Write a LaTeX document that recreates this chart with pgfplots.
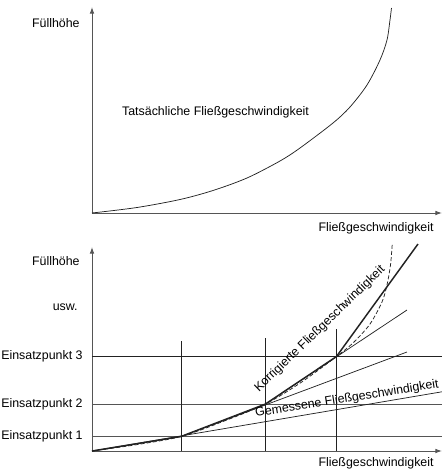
\documentclass[border=0pt]{standalone}
\usepackage{fontspec}
\setmainfont{Liberation Sans}
\usepackage{pgfplots}
\pgfplotsset{compat=1.18}
\usetikzlibrary{arrows.meta}
\definecolor{ink}{HTML}{222222}
\definecolor{axl}{HTML}{555555}
\pgfplotsset{myaxis/.style={
  x=0.75pt, y=0.75pt, axis lines=left, xmin=0, xmax=350, ymin=0,
  enlargelimits=false, xtick=\empty, ytick=\empty, clip=false,
  axis line style={axl, line width=0.7pt, -{Latex[length=5pt,width=3.5pt]}},
  anchor=origin,
  every node/.append style={text=ink, inner sep=0pt}
}}
\begin{document}
\fontsize{9.3}{11}\selectfont
\begin{tikzpicture}[x=0.75pt,y=0.75pt]
\useasboundingbox (-92,-256) rectangle (350,213);
% top panel
\begin{axis}[myaxis, ymax=206, at={(0,0)}]
\addplot[ink, line width=0.55pt, smooth, tension=0.5] coordinates {(0,0)(45,5.5)(88,13.5)(121,22.5)(155,35)(188,52)(208,65)(241,90)(258,106)(275,128)(288,153)(295,173)(298,193)(299.5,205)};
\node[anchor=east] at (axis cs:-8,190) {Füllhöhe};
\node at (axis cs:123.5,101) {Tatsächliche Fließgeschwindigkeit};
\node[anchor=east] at (axis cs:346,-15) {Fließgeschwindigkeit};
\end{axis}
% bottom panel
\begin{axis}[myaxis, ymax=204, at={(0,-238)}]
\addplot[axl, line width=0.6pt] coordinates {(0,14.5)(350,14.5)};
\addplot[axl, line width=0.6pt] coordinates {(0,47)(350,47)};
\addplot[ink, line width=0.55pt] coordinates {(0,94.5)(350,94.5)};
\addplot[ink, line width=0.55pt] coordinates {(89,0)(89,110)};
\addplot[ink, line width=0.55pt] coordinates {(173.5,0)(173.5,113)};
\addplot[ink, line width=0.55pt] coordinates {(244.5,0)(244.5,122)};
\addplot[ink, line width=0.55pt] coordinates {(0,0)(350.5,59.3)};
\addplot[ink, line width=0.55pt] coordinates {(89,14.5)(315,99)};
\addplot[ink, line width=0.55pt] coordinates {(173.5,47)(315,141)};
\addplot[ink, line width=1.1pt] coordinates {(0,0)(89,14.5)(173.5,47)(244.5,94.5)(326,207)};
\addplot[ink, line width=0.55pt, smooth, tension=0.5, dash pattern=on 3pt off 1.6pt] coordinates {(0,0)(44.5,6.3)(89,14.5)(131,29.5)(173.5,47)(209,68.5)(244.5,94.5)(262,109)(278,127)(290,149)(295,166)(298.5,186)(300.3,207.7)};
\node[anchor=east] at (axis cs:-8,190) {Füllhöhe};
\node[anchor=east] at (axis cs:-10,144) {usw.};
\node[anchor=east] at (axis cs:-5,94.5) {Einsatzpunkt 3};
\node[anchor=east] at (axis cs:-5,47) {Einsatzpunkt 2};
\node[anchor=east] at (axis cs:-5,14.5) {Einsatzpunkt 1};
\node[rotate=44] at (axis cs:228,122) {Korrigierte Fließgeschwindigkeit};
\node[rotate=9.1] at (axis cs:255,52) {Gemessene Fließgeschwindigkeit};
\node[anchor=east] at (axis cs:346,-12) {Fließgeschwindigkeit};
\end{axis}
\end{tikzpicture}
\end{document}
